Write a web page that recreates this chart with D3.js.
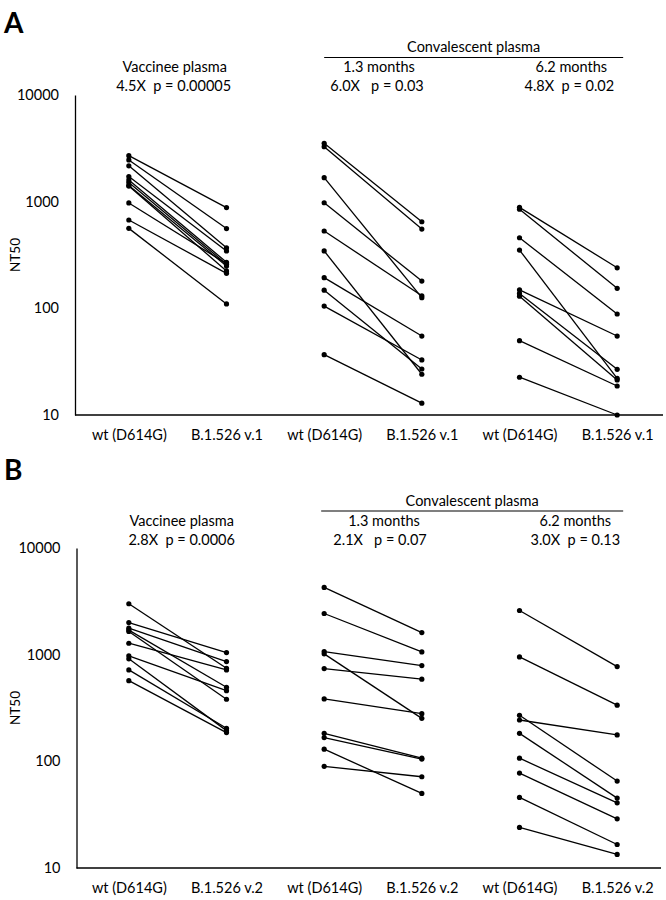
<!DOCTYPE html>
<html>
<head>
<meta charset="utf-8">
<script src="https://cdn.jsdelivr.net/npm/d3@7"></script>
<style>
  body { margin: 0; background: #fff; }
  svg text { font-family: Lato, "Open Sans", sans-serif; fill: #000; white-space: pre; }
</style>
</head>
<body>
<svg id="chart" width="666" height="900"></svg>
<script>
// ---- data ----
const yTicks = [10, 100, 1000, 10000];
const catsA = ["wt (D614G)", "B.1.526 v.1", "wt (D614G) ", "B.1.526 v.1 ", "wt (D614G)  ", "B.1.526 v.1  "];
const catsB = ["wt (D614G)", "B.1.526 v.2", "wt (D614G) ", "B.1.526 v.2 ", "wt (D614G)  ", "B.1.526 v.2  "];

// Panel A
const aVaccWt  = [2700, 2460, 2170, 1720, 1600, 1510, 1420, 1400, 973, 673, 562];
const aVaccVar = [880, 560, 370, 345, 270, 259, 249, 224, 262, 213, 110];
const aConv13Wt  = [3525, 3275, 1680, 977, 531, 345, 194, 148, 105, 36.8];
const aConv13Var = [648, 554, 126, 180, 131, 24.1, 55, 27, 32.8, 12.9];
const aConv62Wt  = [885, 850, 459, 352, 149, 138, 130, 49.8, 22.6];
const aConv62Var = [240, 154, 88.5, 22, 55, 26.8, 21.3, 18.7, 10];

// Panel B
const bVaccWt  = [3000, 2000, 1770, 1700, 1650, 1280, 975, 915, 720, 571];
const bVaccVar = [746, 1046, 861, 495, 382, 720, 460, 194, 204, 186];
const bConv13Wt  = [4266, 2432, 1069, 1018, 740, 385, 183, 167, 130, 89.7];
const bConv13Var = [1612, 1062, 790, 253, 589, 280, 107, 105, 50, 71.7];
const bConv62Wt  = [2594, 953, 270, 244, 183, 107, 77.6, 45.9, 24];
const bConv62Var = [773, 336, 65.3, 177, 45.2, 40.8, 28.9, 16.6, 13.4];

const groupTitles = ["Vaccinee plasma", "1.3 months", "6.2 months"];
const headerLabel = "Convalescent plasma";
const statsA = ["4.5X  p = 0.00005", "6.0X   p = 0.03", "4.8X  p = 0.02"];
const statsB = ["2.8X  p = 0.0006", "2.1X   p = 0.07", "3.0X  p = 0.13"];

// ---- drawing ----
const svg = d3.select("#chart");

function drawPanel(cfg) {
  const g = svg.append("g");
  const x = d3.scalePoint().domain(cfg.cats).range([80, 666]).padding(0.5);
  const y = d3.scaleLog().domain([10, 10000]).range([cfg.bottom, cfg.top]);

  // panel letter
  g.append("text").attr("x", 4).attr("y", cfg.letterY)
    .style("font-size", "28px").style("font-weight", "bold").text(cfg.letter);

  // y axis
  const yAxis = d3.axisLeft(y).tickValues(yTicks).tickFormat(d3.format("d")).tickSize(0).tickPadding(16);
  const ya = g.append("g").attr("transform", `translate(${cfg.left},0)`).call(yAxis);
  ya.select(".domain").attr("stroke", "#000").attr("stroke-width", 1.3);
  ya.selectAll("text").style("font-size", "14.5px").style("font-family", "Lato, sans-serif");

  // x axis
  const xAxis = d3.axisBottom(x).tickSize(0).tickPadding(15).tickFormat(d => d.trim());
  const xa = g.append("g").attr("transform", `translate(0,${cfg.bottom})`).call(xAxis);
  xa.select(".domain").attr("stroke", "#000").attr("stroke-width", 1.3)
    .attr("d", `M${cfg.left},0H${cfg.right}`);
  xa.selectAll("text").style("font-size", "14.5px").style("font-family", "Lato, sans-serif");

  // y title
  g.append("text")
    .attr("transform", `translate(20,${(cfg.top + cfg.bottom) / 2}) rotate(-90)`)
    .attr("text-anchor", "middle").style("font-size", "13.5px").text("NT50");

  // pairs
  cfg.groups.forEach((grp, gi) => {
    const c0 = cfg.cats[gi * 2], c1 = cfg.cats[gi * 2 + 1];
    const pairs = grp.wt.map((w, i) => ({ w, v: grp.v[i] }));
    g.selectAll(null).data(pairs).enter().append("line")
      .attr("x1", x(c0)).attr("x2", x(c1))
      .attr("y1", d => y(d.w)).attr("y2", d => y(d.v))
      .attr("stroke", "#000").attr("stroke-width", 1.3);
    g.selectAll(null).data(grp.wt).enter().append("circle")
      .attr("cx", x(c0)).attr("cy", d => y(d)).attr("r", 2.6).attr("fill", "#000");
    g.selectAll(null).data(grp.v).enter().append("circle")
      .attr("cx", x(c1)).attr("cy", d => y(d)).attr("r", 2.6).attr("fill", "#000");

    // titles
    const cx = (x(c0) + x(c1)) / 2;
    g.append("text").attr("x", cx + cfg.titleShift[gi]).attr("y", cfg.titleY).attr("text-anchor", "middle")
      .style("font-size", "14.5px").text(groupTitles[gi]);
    g.append("text").attr("x", cx + cfg.statShift[gi]).attr("y", cfg.statY).attr("text-anchor", "middle")
      .style("font-size", "14.5px").text(cfg.stats[gi]);
  });

  // convalescent header
  const hx0 = x(cfg.cats[2]) + cfg.hdrPad[0], hx1 = x(cfg.cats[5]) + cfg.hdrPad[1];
  g.append("text").attr("x", (hx0 + hx1) / 2).attr("y", cfg.headerY).attr("text-anchor", "middle")
    .style("font-size", "14.5px").text(headerLabel);
  g.append("line").attr("x1", hx0).attr("x2", hx1).attr("y1", cfg.headerY + 5.5).attr("y2", cfg.headerY + 5.5)
    .attr("stroke", "#000").attr("stroke-width", 1.2);
}

drawPanel({
  letter: "A", letterY: 33, cats: catsA, left: 75, right: 663, top: 95, bottom: 415,
  titleY: 72, statY: 91, headerY: 52, stats: statsA,
  titleShift: [-3, 6, 3], statShift: [-4, 4, 1], hdrPad: [0, 6],
  groups: [
    { wt: aVaccWt, v: aVaccVar },
    { wt: aConv13Wt, v: aConv13Var },
    { wt: aConv62Wt, v: aConv62Var }
  ]
});

drawPanel({
  letter: "B", letterY: 480, cats: catsB, left: 76.5, right: 661, top: 548, bottom: 868,
  titleY: 526, statY: 545, headerY: 505.5, stats: statsB,
  titleShift: [4, 11, 7], statShift: [4, 7, 7], hdrPad: [-3, 6],
  groups: [
    { wt: bVaccWt, v: bVaccVar },
    { wt: bConv13Wt, v: bConv13Var },
    { wt: bConv62Wt, v: bConv62Var }
  ]
});
</script>
</body>
</html>
